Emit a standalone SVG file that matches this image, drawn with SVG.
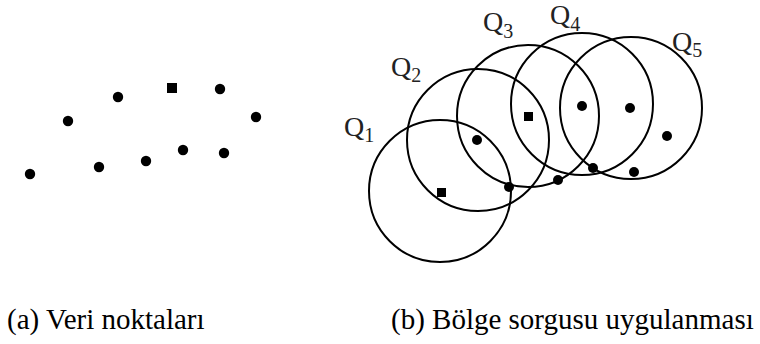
<svg xmlns="http://www.w3.org/2000/svg" width="760" height="344" viewBox="0 0 760 344">
<style>
.pt{fill:#000}
.q{fill:none;stroke:#000;stroke-width:2}
.lbl{font-family:'Liberation Serif','Times New Roman',serif;font-size:28px;fill:#222}
.sub{font-size:20px}
.cap{font-family:'Liberation Serif','Times New Roman',serif;font-size:29px;fill:#000}
</style>
<rect width="760" height="344" fill="#fff"/>
<g id="data-points">
<circle class="pt" cx="30" cy="174" r="5.2"/>
<circle class="pt" cx="68" cy="121" r="5.2"/>
<circle class="pt" cx="99" cy="167" r="5.2"/>
<circle class="pt" cx="118" cy="97" r="5.2"/>
<circle class="pt" cx="146" cy="161" r="5.2"/>
<rect class="pt" x="167" y="83" width="10" height="10"/>
<circle class="pt" cx="183" cy="150" r="5.2"/>
<circle class="pt" cx="220" cy="89" r="5.2"/>
<circle class="pt" cx="256" cy="117" r="5.2"/>
<circle class="pt" cx="224" cy="153" r="5.2"/>
</g>
<g id="query-points">
<rect class="pt" x="437" y="188" width="9" height="9"/>
<circle class="pt" cx="477" cy="140" r="5"/>
<circle class="pt" cx="509" cy="187" r="5"/>
<rect class="pt" x="524" y="112" width="9" height="9"/>
<circle class="pt" cx="558" cy="180" r="5"/>
<circle class="pt" cx="582" cy="106" r="5"/>
<circle class="pt" cx="593" cy="168" r="5"/>
<circle class="pt" cx="630" cy="108" r="5"/>
<circle class="pt" cx="667" cy="136" r="5"/>
<circle class="pt" cx="634" cy="172" r="5"/>
</g>
<g id="Q1"><circle class="q" cx="440" cy="191" r="71"/><text class="lbl" x="344" y="136">Q<tspan class="sub" y="142">1</tspan></text></g>
<g id="Q2"><circle class="q" cx="478" cy="140" r="71"/><text class="lbl" x="391" y="76">Q<tspan class="sub" y="82">2</tspan></text></g>
<g id="Q3"><circle class="q" cx="528" cy="116" r="71"/><text class="lbl" x="483" y="31">Q<tspan class="sub" y="38">3</tspan></text></g>
<g id="Q4"><circle class="q" cx="582" cy="104" r="71"/><text class="lbl" x="550" y="24">Q<tspan class="sub" y="31">4</tspan></text></g>
<g id="Q5"><circle class="q" cx="631" cy="108" r="71"/><text class="lbl" x="672" y="51">Q<tspan class="sub" y="57">5</tspan></text></g>
<g id="connectors"/>
<text class="cap" x="7" y="329">(a) Veri noktaları</text>
<text class="cap" x="391" y="329">(b) Bölge sorgusu uygulanması</text>
</svg>
